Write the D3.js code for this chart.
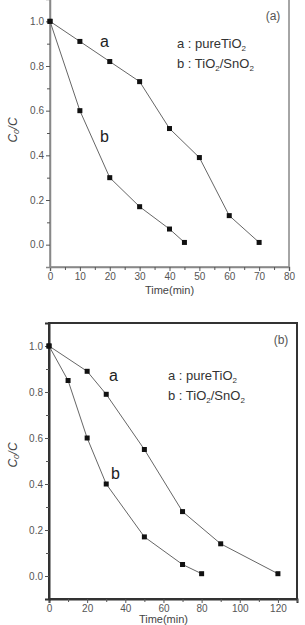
<!DOCTYPE html>
<html>
<head>
<meta charset="utf-8">
<script src="https://cdn.jsdelivr.net/npm/d3@7"></script>
<style>
  body { margin: 0; background: #fff; }
  svg { display: block; font-family: "Liberation Sans", Arial, sans-serif; }
</style>
</head>
<body>
<div id="chart"></div>
<script>
const width = 305;
const height = 625;

// Panel (a): reaction time (min) vs C0/C
const timeA1 = [0, 10, 20, 30, 40, 50, 60, 70];
const valsA1 = [1.0, 0.91, 0.82, 0.73, 0.52, 0.39, 0.13, 0.01];
const timeA2 = [0, 10, 20, 30, 40, 45];
const valsA2 = [1.0, 0.60, 0.30, 0.17, 0.07, 0.01];
const ticksXA = [0, 10, 20, 30, 40, 50, 60, 70, 80];

// Panel (b)
const timeB1 = [0, 20, 30, 50, 70, 90, 120];
const valsB1 = [1.0, 0.89, 0.79, 0.55, 0.28, 0.14, 0.01];
const timeB2 = [0, 10, 20, 30, 50, 70, 80];
const valsB2 = [1.0, 0.85, 0.60, 0.40, 0.17, 0.05, 0.01];
const ticksXB = [0, 20, 40, 60, 80, 100, 120];

const ticksY = [0.0, 0.2, 0.4, 0.6, 0.8, 1.0];

const svg = d3.select("#chart")
    .append("svg")
    .attr("width", width)
    .attr("height", height);

function drawPanel(opt) {
    const x = d3.scaleLinear().domain(opt.xDomain).range([opt.left, opt.right]);
    const y = d3.scaleLinear().domain([-0.1, 1.1]).range([opt.bottom, opt.top]);
    const g = svg.append("g");

    // frame
    g.append("rect")
        .attr("x", opt.left).attr("y", opt.top)
        .attr("width", opt.right - opt.left).attr("height", opt.bottom - opt.top)
        .attr("fill", "none")
        .attr("stroke", opt.frameColor)
        .attr("stroke-width", opt.frameWidth);

    // x axis
    g.append("g")
        .attr("transform", `translate(0,${opt.bottom})`)
        .call(d3.axisBottom(x).tickValues(opt.xTicks).tickSize(4).tickPadding(2).tickFormat(d3.format("d")));
    g.append("g")
        .attr("transform", `translate(0,${opt.bottom})`)
        .call(d3.axisBottom(x).tickValues(opt.xMinor).tickSize(3).tickFormat(""))
        .call(s => s.select(".domain").remove());

    // y axis
    g.append("g")
        .attr("transform", `translate(${opt.left},0)`)
        .call(d3.axisLeft(y).tickValues(ticksY).tickSize(4).tickPadding(2).tickFormat(d3.format(".1f")));
    g.append("g")
        .attr("transform", `translate(${opt.left},0)`)
        .call(d3.axisLeft(y).tickValues([0.1, 0.3, 0.5, 0.7, 0.9]).tickSize(3).tickFormat(""))
        .call(s => s.select(".domain").remove());

    g.selectAll(".domain").attr("stroke", opt.frameColor).attr("stroke-width", opt.frameWidth);
    g.selectAll(".tick line").attr("stroke", "#555");
    g.selectAll(".tick text").attr("fill", "#555").style("font-size", "10px");

    // axis titles
    g.append("text")
        .attr("x", (x(opt.xTicks[0]) + x(opt.xTicks[opt.xTicks.length - 1])) / 2)
        .attr("y", opt.bottom + opt.titleDy)
        .attr("text-anchor", "middle")
        .attr("fill", "#444")
        .style("font-size", "11px")
        .text("Time(min)");

    const yl = g.append("text")
        .attr("transform", `translate(17,${opt.yLabelY}) rotate(-90)`)
        .attr("text-anchor", "middle")
        .attr("fill", "#444")
        .style("font-size", "12px")
        .style("font-style", "italic");
    yl.append("tspan").text("C");
    yl.append("tspan").attr("dy", 2).style("font-size", "8px").text("0");
    yl.append("tspan").attr("dy", -2).text("/C");

    // series
    const line = d3.line().x(d => x(d[0])).y(d => y(d[1]));
    opt.series.forEach(s => {
        const pts = s.t.map((t, i) => [t, s.v[i]]);
        g.append("path")
            .datum(pts)
            .attr("d", line)
            .attr("fill", "none")
            .attr("stroke", "#666")
            .attr("stroke-width", 1);
        g.selectAll(null)
            .data(pts)
            .enter()
            .append("rect")
            .attr("x", d => x(d[0]) - 2.5)
            .attr("y", d => y(d[1]) - 2.5)
            .attr("width", 5)
            .attr("height", 5)
            .attr("fill", "#111");
    });

    // curve labels
    opt.labels.forEach(l => {
        g.append("text")
            .attr("x", l.x).attr("y", l.y)
            .attr("fill", "#222")
            .style("font-size", "16px")
            .text(l.text);
    });

    // panel tag
    g.append("text")
        .attr("x", opt.tag.x).attr("y", opt.tag.y)
        .attr("text-anchor", "middle")
        .attr("fill", "#555")
        .style("font-size", "12px")
        .text(opt.tag.text);

    // legend
    const leg1 = g.append("text")
        .attr("x", opt.legX).attr("y", opt.legY)
        .attr("fill", "#333")
        .style("font-size", "13px");
    leg1.append("tspan").text("a : pureTiO");
    leg1.append("tspan").attr("dy", 3).style("font-size", "8px").text("2");

    const leg2 = g.append("text")
        .attr("x", opt.legX).attr("y", opt.legY + 20)
        .attr("fill", "#333")
        .style("font-size", "13px");
    leg2.append("tspan").text("b : TiO");
    leg2.append("tspan").attr("dy", 3).style("font-size", "8px").text("2");
    leg2.append("tspan").attr("dy", -3).text("/SnO");
    leg2.append("tspan").attr("dy", 3).style("font-size", "8px").text("2");
}

drawPanel({
    xDomain: [0, 80], left: 50, right: 289, top: -1, bottom: 267,
    xTicks: ticksXA, xMinor: [5, 15, 25, 35, 45, 55, 65, 75],
    frameColor: "#888", frameWidth: 1.5,
    titleDy: 27, yLabelY: 130,
    series: [{ t: timeA1, v: valsA1 }, { t: timeA2, v: valsA2 }],
    labels: [{ text: "a", x: 100, y: 47 }, { text: "b", x: 100, y: 142 }],
    tag: { text: "(a)", x: 273, y: 20 },
    legX: 177, legY: 48
});

drawPanel({
    xDomain: [0, 130], left: 49, right: 297, top: 323, bottom: 599,
    xTicks: ticksXB, xMinor: [10, 30, 50, 70, 90, 110, 130],
    frameColor: "#333", frameWidth: 2,
    titleDy: 24, yLabelY: 455,
    series: [{ t: timeB1, v: valsB1 }, { t: timeB2, v: valsB2 }],
    labels: [{ text: "a", x: 109, y: 381 }, { text: "b", x: 111, y: 479 }],
    tag: { text: "(b)", x: 281, y: 344 },
    legX: 168, legY: 380
});
</script>
</body>
</html>
